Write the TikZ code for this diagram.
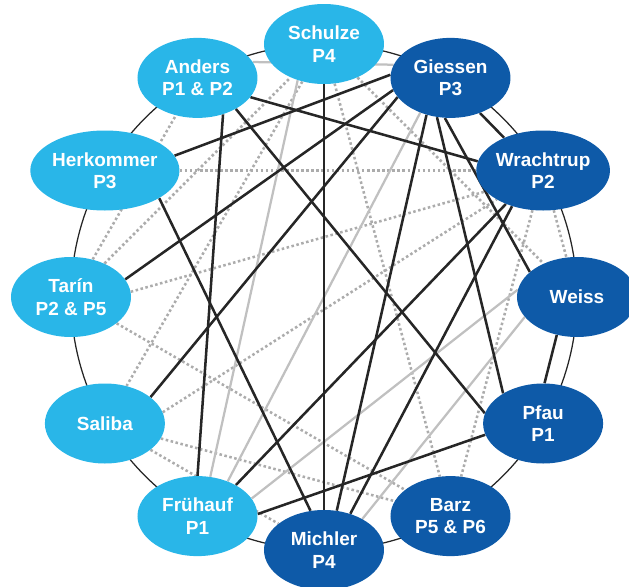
\documentclass[tikz,border=0pt]{standalone}
\usepackage{fontspec}
\setmainfont{Liberation Sans}
\usepackage{tikz}
\usetikzlibrary{shapes,backgrounds}
\definecolor{lightblue}{RGB}{41,182,232}
\definecolor{darkblue}{RGB}{14,90,168}
\definecolor{linkgray}{RGB}{192,192,192}
\definecolor{dotgray}{RGB}{172,172,172}
\tikzstyle{Group} = [ellipse, minimum width=3.0cm, minimum height=2.0cm, inner sep=0pt, text=white, font=\bfseries\fontsize{13.5}{16}\selectfont, align=center]
\tikzstyle{Light} = [Group, fill=lightblue]
\tikzstyle{Dark} = [Group, fill=darkblue]
\tikzstyle{strong} = [line width=1.8pt, color=black!85]
\tikzstyle{medium} = [line width=1.6pt, color=linkgray]
\tikzstyle{weak} = [line width=1.8pt, color=dotgray, dash pattern=on 1.8pt off 1.8pt]

\begin{document}
\begin{tikzpicture}
\useasboundingbox (-8.1,-7.225) rectangle (7.625,7.425);

\node (Schulze)[Light] at (90:6.325) {Schulze\\P4};
\node (Giessen)[Dark] at (60:6.325) {Giessen\\P3};
\node (Wrachtrup)[Dark] at (30:6.325) {Wrachtrup\\P2};
\node (Weiss)[Dark] at (0:6.325) {Weiss};
\node (Pfau)[Dark] at (-30:6.325) {Pfau\\P1};
\node (Barz)[Dark] at (-60:6.325) {Barz\\P5 \& P6};
\node (Michler)[Dark] at (-90:6.325) {Michler\\P4};
\node (Fruehauf)[Light] at (-120:6.325) {Frühauf\\P1};
\node (Saliba)[Light] at (-150:6.325) {Saliba};
\node (Tarin)[Light] at (180:6.325) {Tarín\\P2 \& P5};
\node (Herkommer)[Light] at (150:6.325) {Herkommer\\P3};
\node (Anders)[Light] at (120:6.325) {Anders\\P1 \& P2};

\begin{pgfonlayer}{background}
\draw[line width=0.9pt, black!85] (0,0) circle (6.325);

% dotted links
\draw[weak](Herkommer)--(Wrachtrup);
\draw[weak](Tarin.5)--(Wrachtrup.200);
\draw[weak](Tarin)--(Barz);
\draw[weak](Tarin)--(Schulze);
\draw[weak](Tarin)--(Anders);
\draw[weak](Schulze)--(Saliba);
\draw[weak](Schulze)--(Barz);
\draw[weak](Schulze)--(Weiss);
\draw[weak](Wrachtrup)--(Weiss);
\draw[weak](Wrachtrup)--(Barz);
\draw[weak](Saliba.11)--(Wrachtrup.212);
\draw[weak](Saliba)--(Barz);
\draw[weak](Saliba)--(Michler);

% grey links
\draw[medium](Schulze.234)--(Fruehauf.72);
\draw[medium](Giessen.229)--(Fruehauf.49);
\draw[medium](Weiss.173)--(Fruehauf.18);
\draw[medium](Weiss.201)--(Michler.39);
\draw[medium](Anders.16)--(Giessen.167);

% black links
\draw[strong](Schulze.south)--(Michler.north);
\draw[strong](Giessen.-50)--(Wrachtrup.140);
\draw[strong](Weiss.242)--(Pfau.88);
\draw[strong](Anders.-20)--(Wrachtrup.172);
\draw[strong](Anders.-39)--(Pfau.170);
\draw[strong](Anders.-55)--(Fruehauf.90);
\draw[strong](Herkommer.12)--(Giessen.177);
\draw[strong](Herkommer.-27)--(Michler.109);
\draw[strong](Tarin.18)--(Giessen.192);
\draw[strong](Saliba.30)--(Giessen.200);
\draw[strong](Fruehauf.39)--(Wrachtrup.222);
\draw[strong](Fruehauf.2)--(Pfau.191);
\draw[strong](Michler.72)--(Giessen.237);
\draw[strong](Michler.54)--(Wrachtrup.229);
\draw[strong](Giessen.251)--(Pfau.143);
\draw[strong](Giessen.262)--(Weiss.152);
\end{pgfonlayer}
\end{tikzpicture}
\end{document}
